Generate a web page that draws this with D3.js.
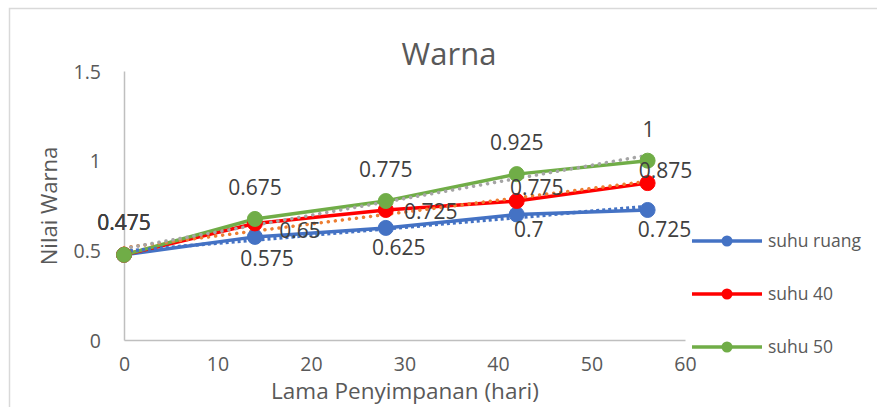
<!DOCTYPE html>
<html><head><meta charset="utf-8">
<script src="https://cdn.jsdelivr.net/npm/d3@7"></script>
<style>
html,body{margin:0;padding:0;background:#fff;overflow:hidden}
text{font-family:"Open Sans",sans-serif}
</style></head>
<body><svg id="c" width="877" height="407"></svg>
<script>
// ---- data ----
const days = [0, 14, 28, 42, 56];
const suhuRuang = [0.475, 0.575, 0.625, 0.7, 0.725];
const suhu40 = [0.475, 0.65, 0.725, 0.775, 0.875];
const suhu50 = [0.475, 0.675, 0.775, 0.925, 1];
const seriesNames = ["suhu ruang", "suhu 40", "suhu 50"];
const xTicks = [0, 10, 20, 30, 40, 50, 60];
const yTicks = [0, 0.5, 1, 1.5];
const chartTitle = "Warna";
const xTitle = "Lama Penyimpanan (hari)";
const yTitle = "Nilai Warna";

// ---- styles ----
const colors = ["#4472C4", "#FF0000", "#70AD47"];
const trendColors = ["#4472C4", "#ED7D31", "#A5A5A5"];
// label offsets (label centre relative to point), per series / point
const labelOff = [
  [[0,-32],[12,22],[13,20],[12,15],[17,19]],
  [[0,-32],[45,7],[45,1],[20,-14],[18,-13]],
  [[0,-32],[0,-32],[0,-32],[0,-32],[1,-31]]
];

const svg = d3.select("#c");
const x = d3.scaleLinear().domain([0, 60]).range([124, 685]);
const y = d3.scaleLinear().domain([0, 1.5]).range([340, 71]);

// border
svg.append("rect").attr("x", 9.5).attr("y", 8.5).attr("width", 1000).attr("height", 1000)
  .attr("fill", "none").attr("stroke", "#D9D9D9").attr("stroke-width", 1.5);

// title
svg.append("text").attr("x", 449).attr("y", 65).attr("text-anchor", "middle")
  .attr("font-size", 31).attr("fill", "#595959").text(chartTitle);

// axes
const xAxis = d3.axisBottom(x).tickValues(xTicks).tickSize(0).tickPadding(0).tickFormat(d3.format("d"));
const gx = svg.append("g").attr("transform", "translate(0,340)").call(xAxis);
gx.select(".domain").attr("stroke", "#BFBFBF").attr("stroke-width", 1.5);
gx.selectAll("text").attr("y", 31).attr("dy", null).attr("font-size", 19.5).attr("fill", "#595959");

const yAxis = d3.axisLeft(y).tickValues(yTicks).tickSize(0).tickPadding(0).tickFormat(d => String(d));
const gy = svg.append("g").attr("transform", "translate(124,0)").call(yAxis);
gy.select(".domain").attr("stroke", "#BFBFBF").attr("stroke-width", 1.5);
gy.selectAll("text").attr("x", -23).attr("dy", "0.36em").attr("font-size", 19.5).attr("fill", "#595959");
gx.attr("font-family", null); gy.attr("font-family", null);

// axis titles
svg.append("text").attr("x", 405).attr("y", 399).attr("text-anchor", "middle")
  .attr("font-size", 22.5).attr("fill", "#595959").text(xTitle);
svg.append("text").attr("transform", "translate(57,206) rotate(-90)").attr("text-anchor", "middle")
  .attr("font-size", 22).attr("fill", "#595959").text(yTitle);

const allSeries = [suhuRuang, suhu40, suhu50];
const line = d3.line().x((d, i) => x(days[i])).y(d => y(d));

// series lines
allSeries.forEach((s, k) => {
  svg.append("path").datum(s).attr("d", line).attr("fill", "none")
    .attr("stroke", colors[k]).attr("stroke-width", 3.5).attr("stroke-linejoin", "round");
});

// linear trendlines (least squares of each series)
allSeries.forEach((s, k) => {
  const mx = d3.mean(days), my = d3.mean(s);
  const sxy = d3.sum(days, (d, i) => (d - mx) * (s[i] - my));
  const sxx = d3.sum(days, d => (d - mx) * (d - mx));
  const b = sxy / sxx, a = my - b * mx;
  const ends = [days[0], days[days.length - 1]];
  svg.append("path").datum(ends)
    .attr("d", d3.line().x(d => x(d)).y(d => y(a + b * d)))
    .attr("fill", "none").attr("stroke", trendColors[k]).attr("stroke-width", 3.5)
    .attr("stroke-linecap", k === 0 ? "butt" : "round")
    .attr("stroke-dasharray", k === 0 ? "3,3" : "0.1,7");
});

// markers
allSeries.forEach((s, k) => {
  svg.append("g").selectAll("circle").data(s).join("circle")
    .attr("cx", (d, i) => x(days[i])).attr("cy", d => y(d)).attr("r", 7.5)
    .attr("fill", colors[k]).attr("stroke", colors[k]).attr("stroke-width", 1);
});

// data labels
allSeries.forEach((s, k) => {
  svg.append("g").selectAll("text").data(s).join("text")
    .attr("x", (d, i) => x(days[i]) + labelOff[k][i][0])
    .attr("y", (d, i) => y(d) + labelOff[k][i][1])
    .attr("dy", "0.36em").attr("text-anchor", "middle")
    .attr("font-size", 21).attr("fill", "#404040").text(d => String(d));
});

// legend
const legY = [241, 294, 347];
seriesNames.forEach((n, k) => {
  const g = svg.append("g");
  g.append("line").attr("x1", 692).attr("x2", 762).attr("y1", legY[k]).attr("y2", legY[k])
    .attr("stroke", colors[k]).attr("stroke-width", 3.5);
  g.append("circle").attr("cx", 727).attr("cy", legY[k]).attr("r", 5.5).attr("fill", colors[k]);
  g.append("text").attr("x", 768).attr("y", legY[k]).attr("dy", "0.36em")
    .attr("font-size", 17.5).attr("fill", "#595959").text(n);
});
</script></body></html>
